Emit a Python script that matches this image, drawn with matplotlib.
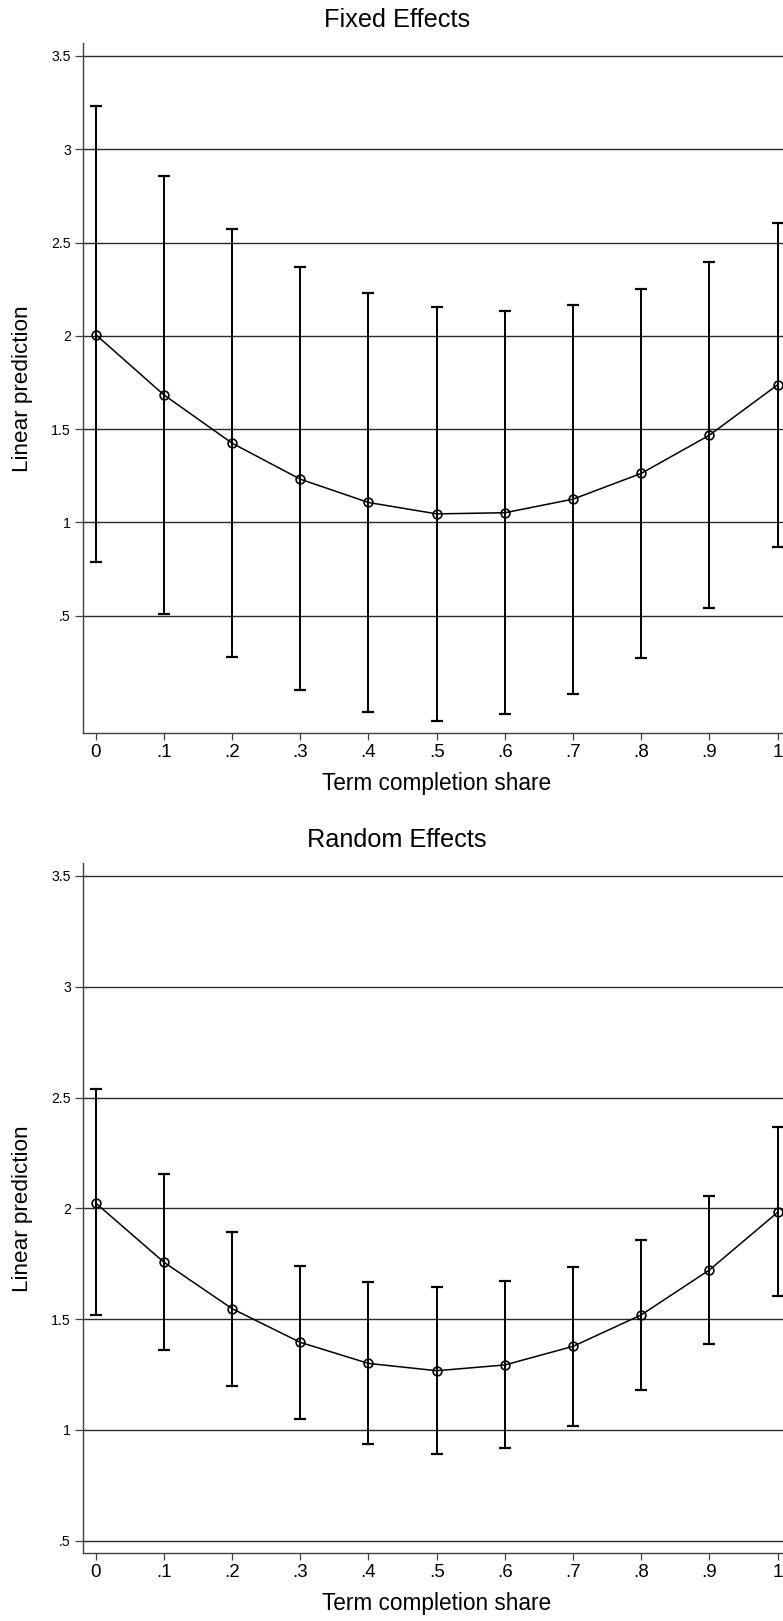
import matplotlib
matplotlib.use("Agg")
import matplotlib.pyplot as plt
import numpy as np

plt.rcParams['font.family'] = ['Liberation Sans', 'DejaVu Sans']

x = [0.0, 0.1, 0.2, 0.3, 0.4, 0.5, 0.6, 0.7, 0.8, 0.9, 1.0]
xtick_labels = ["0", ".1", ".2", ".3", ".4", ".5", ".6", ".7", ".8", ".9", "1"]
yticks = [0.5, 1.0, 1.5, 2.0, 2.5, 3.0, 3.5]
ytick_labels = [".5", "1", "1.5", "2", "2.5", "3", "3.5"]

fe_mean = [2.007, 1.684, 1.425, 1.232, 1.107, 1.046, 1.052, 1.125, 1.263, 1.468, 1.738]
fe_upper = [3.232, 2.855, 2.571, 2.368, 2.230, 2.157, 2.134, 2.168, 2.252, 2.395, 2.607]
fe_lower = [0.786, 0.512, 0.280, 0.100, -0.016, -0.062, -0.029, 0.082, 0.273, 0.539, 0.871]

re_mean = [2.024, 1.757, 1.547, 1.395, 1.300, 1.267, 1.293, 1.377, 1.519, 1.722, 1.982]
re_upper = [2.539, 2.154, 1.893, 1.741, 1.668, 1.645, 1.671, 1.737, 1.859, 2.056, 2.365]
re_lower = [1.517, 1.362, 1.199, 1.047, 0.938, 0.889, 0.916, 1.016, 1.182, 1.386, 1.602]

W, H = 783, 1621
fig = plt.figure(figsize=(W / 100, H / 100), dpi=100)

def px_axes(left, top, right, bottom):
    return [left / W, 1 - bottom / H, (right - left) / W, (bottom - top) / H]

panels = [
    ("Fixed Effects", fe_mean, fe_lower, fe_upper, (43.3, 733.3), (-0.130, 3.568), 20.0),
    ("Random Effects", re_mean, re_lower, re_upper, (863.3, 1553.3), (0.443, 3.557), 840.0),
]

for title, mean, lo, hi, (top, bot), ylim, ty in panels:
    ax = fig.add_axes(px_axes(82.7, top, 783, bot))
    mean = np.array(mean)
    lo = np.array(lo)
    hi = np.array(hi)
    for yv in yticks:
        ax.axhline(yv, color='#2a2a2a', lw=1.0, zorder=1)
    ax.errorbar(x, mean, yerr=[mean - lo, hi - mean], fmt='none', ecolor='black',
                elinewidth=1.4, capsize=4.5, capthick=1.6, zorder=3)
    ax.plot(x, mean, color='black', lw=1.1, marker='o', markersize=6.3,
            markerfacecolor='none', markeredgecolor='black', markeredgewidth=1.2, zorder=4)
    ax.set_xlim(-0.019, 1.0078)
    ax.set_ylim(*ylim)
    ax.set_xticks(x)
    ax.set_xticklabels(xtick_labels, fontsize=13.5)
    ax.set_yticks(yticks)
    ax.set_yticklabels(ytick_labels, fontsize=10.2)
    for s in ['top', 'right']:
        ax.spines[s].set_visible(False)
    for s in ['left', 'bottom']:
        ax.spines[s].set_color('#404040')
        ax.spines[s].set_linewidth(1.0)
    ax.tick_params(axis='y', length=5.5, width=0.9, color='#404040', pad=3)
    ax.tick_params(axis='x', length=5.0, width=0.9, color='#404040', pad=3)
    ax.set_xlabel("Term completion share", fontsize=16.3)
    ax.xaxis.set_label_coords((436.5 - 82.7) / 700.3, -50 / 690)
    ax.xaxis.label.set_va('center')
    ax.set_ylabel("Linear prediction", fontsize=16.2)
    ax.yaxis.set_label_coords((23 - 82.7) / 700.3, 0.5)
    ax.yaxis.label.set_va('center')
    fig.text(396.7 / W, 1 - ty / H, title, fontsize=18.2, ha='center', va='center')

fig.savefig("out.png", dpi=100, facecolor='white')
